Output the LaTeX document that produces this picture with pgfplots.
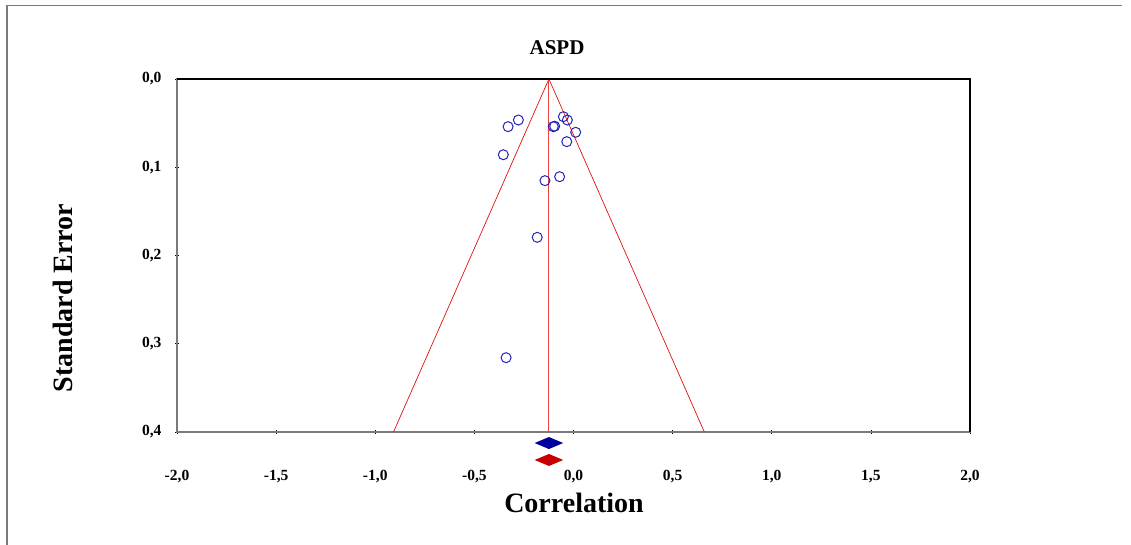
\documentclass[border=0pt]{standalone}
\usepackage{fontspec}
\setmainfont{Liberation Serif}
\usepackage{pgfplots}
\pgfplotsset{compat=1.18}
\definecolor{PtBlue}{HTML}{2424B4}
\definecolor{FunRed}{HTML}{E01010}
\definecolor{MeanRed}{HTML}{F04040}
\definecolor{DiaBlue}{HTML}{0000A0}
\definecolor{DiaRed}{HTML}{C80000}
\definecolor{Frame}{HTML}{7A7A7A}

\begin{document}
\begin{tikzpicture}[x=1pt,y=1pt]
\useasboundingbox (0,0) rectangle (1131,545);
% outer frame (left and top only)
\draw[Frame,line width=1.4pt] (7,0) -- (7,539.5) -- (1122,539.5);

\begin{axis}[
  at={(177pt,113pt)},anchor=south west,
  scale only axis,width=793pt,height=353pt,
  xmin=-2,xmax=2,ymin=0,ymax=0.4,y dir=reverse,
  xtick={-2,-1.5,...,2},ytick={0,0.1,...,0.4},
  xtick pos=bottom,ytick pos=left,
  tick align=center,major tick length=4pt,
  tick style={black,line width=0.6pt},
  axis line style={Frame,line width=1.3pt},
  tick label style={font=\bfseries\fontsize{15.5}{15.5}\selectfont},
  xticklabel style={yshift=-33pt},
  yticklabel style={xshift=-10pt},
  /pgf/number format/.cd,fixed,fixed zerofill,precision=1,use comma,assume math mode=true,
  /pgfplots/.cd,
  clip=false]
% funnel
\addplot[FunRed,line width=0.7pt] coordinates {(-0.908,0.4) (-0.124,0) (0.660,0.4)};
\addplot[MeanRed,line width=1pt] coordinates {(-0.124,0) (-0.124,0.4)};
% studies
\addplot[only marks,mark=o,mark size=5pt,mark options={PtBlue,line width=1pt}] coordinates {
(-0.278,0.0465) (-0.330,0.0540) (-0.051,0.0427) (-0.031,0.0465)
(-0.102,0.0540) (-0.095,0.0535) (0.011,0.0604) (-0.034,0.0710)
(-0.354,0.0858) (-0.070,0.1107) (-0.144,0.1152) (-0.183,0.1794)
(-0.340,0.3158)};
% summary diamonds
\addplot[fill=DiaBlue,draw=none] coordinates {(-0.196,0.4125) (-0.124,0.4193) (-0.052,0.4125) (-0.124,0.4057)} -- cycle;
\addplot[fill=DiaRed,draw=none] coordinates {(-0.196,0.4317) (-0.124,0.4385) (-0.052,0.4317) (-0.124,0.4249)} -- cycle;
\draw[black,line width=1.3pt] (rel axis cs:0,1) -- (rel axis cs:1,1) -- (rel axis cs:1,0);
\end{axis}

\node[font=\bfseries\fontsize{21}{21}\selectfont] at (557,497) {ASPD};
\node[font=\bfseries\fontsize{28}{28}\selectfont] at (574,42) {Correlation};
\node[font=\bfseries\fontsize{28}{28}\selectfont,rotate=90] at (63,247) {Standard Error};
\end{tikzpicture}
\end{document}
